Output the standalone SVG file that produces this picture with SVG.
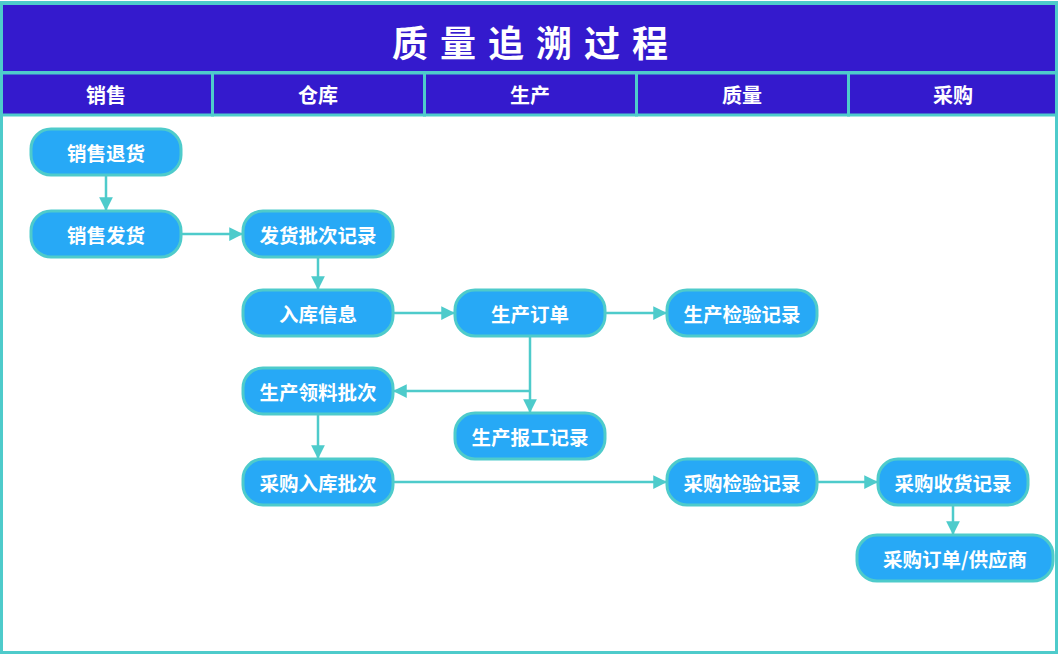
<svg xmlns="http://www.w3.org/2000/svg" width="1058" height="655" viewBox="0 0 1058 655">
<defs>
<style>
.band{fill:#341ACD;stroke:#4ECBCB;stroke-width:3}
.hdr{fill:#fff;font-family:"Noto Sans CJK SC","Noto Sans",sans-serif;font-weight:bold;font-size:20px;text-anchor:middle;dominant-baseline:central}
.title{fill:#fff;font-family:"Noto Sans CJK SC","Noto Sans",sans-serif;font-weight:bold;font-size:36px;letter-spacing:12px;text-anchor:middle;dominant-baseline:central}
.node rect{fill:#27A9F6;stroke:#4ECBCB;stroke-width:3}
.node text{fill:#fff;font-family:"Noto Sans CJK SC","Noto Sans",sans-serif;font-weight:bold;font-size:19.5px;text-anchor:middle;dominant-baseline:central}
.con{fill:none;stroke:#4ECBCB;stroke-width:2.5}
</style>
<marker id="ah" viewBox="0 0 10 10" refX="10" refY="5" markerWidth="6" markerHeight="5.5" orient="auto" markerUnits="strokeWidth">
<path d="M0,0 L10,5 L0,10 z" fill="#4ECBCB"/>
</marker>
</defs>
<rect x="0" y="0" width="1058" height="655" fill="#fff"/>
<rect x="1.5" y="2.5" width="1055" height="650" fill="#fff" stroke="#4ECBCB" stroke-width="3"/>
<g id="title">
<rect class="band" x="1.5" y="3.5" width="1055" height="69"/>
<text class="title" x="536" y="41">质量追溯过程</text>
</g>
<g id="lanes">
<rect class="band" x="1.5" y="73" width="211" height="42"/>
<rect class="band" x="212.5" y="73" width="212" height="42"/>
<rect class="band" x="424.5" y="73" width="212" height="42"/>
<rect class="band" x="636.5" y="73" width="212" height="42"/>
<rect class="band" x="848.5" y="73" width="208" height="42"/>
<text class="hdr" x="106" y="94">销售</text>
<text class="hdr" x="318" y="94">仓库</text>
<text class="hdr" x="530" y="94">生产</text>
<text class="hdr" x="742" y="94">质量</text>
<text class="hdr" x="953" y="94">采购</text>
</g>
<g id="connectors">
<path class="con" d="M106,175 V211" marker-end="url(#ah)"/>
<path class="con" d="M181,234 H243" marker-end="url(#ah)"/>
<path class="con" d="M318,257 V290" marker-end="url(#ah)"/>
<path class="con" d="M393,313 H455" marker-end="url(#ah)"/>
<path class="con" d="M605,313 H667" marker-end="url(#ah)"/>
<path class="con" d="M530,336 V413" marker-end="url(#ah)"/>
<path class="con" d="M530,391 H393" marker-end="url(#ah)"/>
<path class="con" d="M318,414 V459" marker-end="url(#ah)"/>
<path class="con" d="M393,482 H667" marker-end="url(#ah)"/>
<path class="con" d="M817,482 H878" marker-end="url(#ah)"/>
<path class="con" d="M953,505 V535" marker-end="url(#ah)"/>
</g>
<g id="n1" class="node"><rect x="31" y="129" width="150" height="46" rx="20"/><text x="106" y="152">销售退货</text></g>
<g id="n2" class="node"><rect x="31" y="211" width="150" height="46" rx="20"/><text x="106" y="234">销售发货</text></g>
<g id="n3" class="node"><rect x="243" y="211" width="150" height="46" rx="20"/><text x="318" y="234">发货批次记录</text></g>
<g id="n4" class="node"><rect x="243" y="290" width="150" height="46" rx="20"/><text x="318" y="313">入库信息</text></g>
<g id="n5" class="node"><rect x="455" y="290" width="150" height="46" rx="20"/><text x="530" y="313">生产订单</text></g>
<g id="n6" class="node"><rect x="667" y="290" width="150" height="46" rx="20"/><text x="742" y="313">生产检验记录</text></g>
<g id="n7" class="node"><rect x="243" y="368" width="150" height="46" rx="20"/><text x="318" y="391">生产领料批次</text></g>
<g id="n8" class="node"><rect x="455" y="413" width="150" height="46" rx="20"/><text x="530" y="436">生产报工记录</text></g>
<g id="n9" class="node"><rect x="243" y="459" width="150" height="46" rx="20"/><text x="318" y="482">采购入库批次</text></g>
<g id="n10" class="node"><rect x="667" y="459" width="150" height="46" rx="20"/><text x="742" y="482">采购检验记录</text></g>
<g id="n11" class="node"><rect x="878" y="459" width="150" height="46" rx="20"/><text x="953" y="482">采购收货记录</text></g>
<g id="n12" class="node"><rect x="857" y="535" width="196" height="46" rx="20"/><text x="955" y="558">采购订单/供应商</text></g>
</svg>
